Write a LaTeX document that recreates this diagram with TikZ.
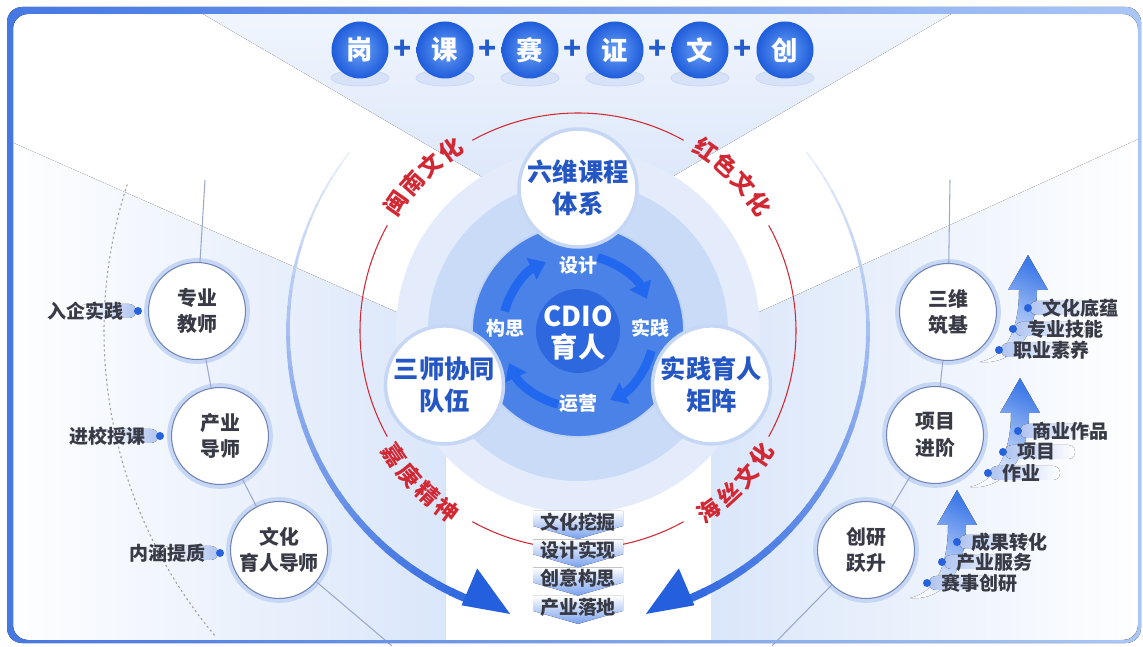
\documentclass[tikz,border=0pt]{standalone}
\usepackage{fontspec}
\setmainfont{Noto Sans CJK SC}
\usetikzlibrary{arrows.meta}

\definecolor{frameA}{RGB}{70,120,228}
\definecolor{frameB}{RGB}{170,198,246}
\definecolor{beam}{RGB}{218,230,250}
\definecolor{discpale}{RGB}{228,236,252}
\definecolor{discring}{RGB}{202,219,248}
\definecolor{disccore}{RGB}{74,130,232}
\definecolor{discin}{RGB}{46,104,222}
\definecolor{cycblue}{RGB}{34,104,238}
\definecolor{bigblue}{RGB}{36,96,222}
\definecolor{risedark}{RGB}{62,122,232}
\definecolor{culred}{RGB}{210,40,52}
\definecolor{nodeblue}{RGB}{36,86,196}
\definecolor{txtgray}{RGB}{56,58,70}
\definecolor{ringpale}{RGB}{198,214,245}
\definecolor{ringdark}{RGB}{112,132,182}
\definecolor{dotblue}{RGB}{38,98,222}
\definecolor{pillblue}{RGB}{176,196,240}
\definecolor{chevblue}{RGB}{120,160,238}
\definecolor{bubbleA}{RGB}{105,160,248}
\definecolor{bubbleB}{RGB}{30,92,218}
\definecolor{plusblue}{RGB}{36,92,206}

\tikzset{
  bignode/.style={circle, fill=white, draw=ringpale, line width=2pt, minimum size=2.36cm, inner sep=0pt, align=center, text=nodeblue, font=\bfseries\fontsize{14.4}{18.5}\selectfont},
  sidenode/.style={circle, fill=white, draw=ringdark, line width=0.6pt, preaction={draw=ringpale, line width=5pt}, minimum size=1.94cm, inner sep=0pt, align=center, text=txtgray, font=\bfseries\fontsize{11.3}{15}\selectfont},
  bubble/.style={circle, minimum size=1.14cm, inner sep=0pt, inner color=bubbleA, outer color=bubbleB, text=white, font=\bfseries\fontsize{15}{16}\selectfont},
  plusmark/.style={text=plusblue, inner sep=0pt, font=\bfseries\fontsize{17}{17}\selectfont},
  culture/.style={text=culred, inner sep=0pt, font=\bfseries\fontsize{13}{14}\selectfont},
  cyclab/.style={text=white, font=\bfseries\fontsize{10.8}{12}\selectfont},
  tag/.style={text=txtgray, inner sep=1pt, font=\bfseries\fontsize{10.8}{12}\selectfont},
  dotmark/.style={circle, fill=dotblue, minimum size=0.16cm, inner sep=0pt},
  linkline/.style={draw=ringdark!70, line width=0.6pt},
}

% label with dot on its right
\newcommand{\lefttag}[4]{%
  \fill[left color=white, right color=pillblue, rounded corners=0.14cm] (#2-58,#3-7) rectangle (#2-2,#3+7);
  \node[tag, anchor=east] (#1) at (#2-12,#3) {#4};
  \node[dotmark] (#1dot) at (#2,#3) {};
}
% label with dot on its left
\newcommand{\righttag}[4]{%
  \fill[left color=pillblue, right color=white, rounded corners=0.14cm] (#2+2,#3-7) rectangle (#2+72,#3+7);
  \node[tag, anchor=west] (#1) at (#2+12,#3) {#4};
  \node[dotmark] (#1dot) at (#2,#3) {};
}
% rising arrow from (#1,#2) to tip (#3,#4)
\newcommand{\risearrow}[4]{%
  \fill[top color=risedark, bottom color=risedark!4, shading angle=-25] (#1,#2) .. controls (#1+28,#2+6) and (#3-9,#4-72) .. (#3-9,#4-35) -- (#3-20,#4-35) -- (#3,#4) -- (#3+20,#4-35) -- (#3+9,#4-35) .. controls (#3+9,#4-78) and (#1+36,#2-3) .. (#1,#2) -- cycle;
}

\begin{document}
\begin{tikzpicture}[x=0.02cm,y=0.02cm]
\useasboundingbox (0,0) rectangle (1143,646);
\fill[white] (0,0) rectangle (1143,646);

% light beams
\begin{scope}
  \clip[rounded corners=0.3cm] (13,6) rectangle (1138,632);
  \fill[top color=beam!35!white, bottom color=beam] (179,646) -- (525,444) -- (629,444) -- (975,646) -- cycle;
  \fill[left color=white, right color=beam] (0,509) -- (410,328) -- (445,300) -- (445,0) -- (0,0) -- cycle;
  \fill[left color=beam, right color=white] (1143,509) -- (746,328) -- (711,300) -- (711,0) -- (1143,0) -- cycle;
\end{scope}

% top row
\foreach \ch [count=\k from 0] in {岗,课,赛,证,文,创}{
  \fill[ringpale!70!white, draw=ringpale] (360+85*\k,568) ellipse [x radius=29, y radius=8];
  \node[bubble] (b\k) at (360+85*\k,596) {\ch};
}
\foreach \k in {0,...,4}
  \node[plusmark] (p\k) at (402.5+85*\k,596) {+};

\begin{scope}[shift={(578,315)}]
  % discs
  \fill[discpale] (0,0) circle (182);
  \fill[discring] (0,0) circle (150);
  % culture ring
  \foreach \s in {61,151,241,331}
    \draw[culred, line width=0.6pt] (\s:218) arc[start angle=\s, end angle=\s+58, radius=218];
  \foreach \ch [count=\k] in {闽,南,文,化}
    \node[culture, rotate=135+16.5-6.6*\k-90] (m\k) at (135+16.5-6.6*\k:222) {\ch};
  \foreach \ch [count=\k] in {红,色,文,化}
    \node[culture, rotate=45+16.5-6.6*\k-90] (r\k) at (45+16.5-6.6*\k:222) {\ch};
  \foreach \ch [count=\k] in {嘉,庚,精,神}
    \node[culture, rotate=224-16.5+6.6*\k+90] (j\k) at (224-16.5+6.6*\k:222) {\ch};
  \foreach \ch [count=\k] in {海,丝,文,化}
    \node[culture, rotate=316-16.5+6.6*\k+90] (h\k) at (316-16.5+6.6*\k:222) {\ch};
  % big arrows
  \foreach \i in {0,...,35}{
    \pgfmathsetmacro\ang{142+3*\i}
    \pgfmathsetmacro\angb{38-3*\i}
    \pgfmathtruncatemacro\pc{12+2.4*\i}
    \pgfmathsetmacro\lw{0.8+0.11*\i}
    \draw[bigblue!\pc!white, line width=\lw pt] (\ang:290) arc[start angle=\ang, end angle=\ang+3.4, radius=290];
    \draw[bigblue!\pc!white, line width=\lw pt] (\angb:290) arc[start angle=\angb, end angle=\angb-3.4, radius=290];
  }
  \fill[bigblue] (256.5:291) -- (247:298) -- (247:258) -- cycle;
  \fill[bigblue] (-76.5:291) -- (-67:298) -- (-67:258) -- cycle;
  % core
  \fill[disccore] (0,0) circle (106);
  \draw[white!65!disccore, line width=1pt] (0,0) circle (106);
  \fill[discin] (0,0) circle (42);
  \foreach \s in {165,75,-15,-105}
    \draw[cycblue, line width=5pt, -{Triangle[width=13pt,length=9pt]}] (\s:76) arc[start angle=\s, end angle=\s-50, radius=76];
  \node[cyclab] (s1) at (0,66) {设计};
  \node[cyclab] (s2) at (72,3) {实践};
  \node[cyclab] (s3) at (0,-72) {运营};
  \node[cyclab] (s4) at (-73,3) {构思};
  \node[text=white, align=center, font=\bfseries\fontsize{15.6}{18}\selectfont] (core) at (0,-2) {CDIO\\育人};
  \node[bignode] (n1) at (90:143) {六维课程\\体系};
  \node[bignode] (n2) at (202:144) {三师协同\\队伍};
  \node[bignode] (n3) at (338:144) {实践育人\\矩阵};
  % dotted guide
  \draw[gray!75, line width=0.6pt, dash pattern=on 1.2pt off 1.6pt] (162:474) arc[start angle=162, end angle=220, radius=474];
\end{scope}

% bottom steps
\foreach \word [count=\k] in {文化挖掘,设计实现,创意构思,产业落地}{
  \pgfmathsetmacro\yy{151.3-28.3*\k}
  \fill[top color=white, bottom color=chevblue] (533,\yy+12) -- (623,\yy+12) -- (623,\yy-3) -- (578,\yy-16) -- (533,\yy-3) -- cycle;
  \node[tag] (st\k) at (578,\yy+1) {\word};
}

% teachers
\node[sidenode] (lt1) at (197,335) {专业\\教师};
\node[sidenode] (lt2) at (220,210) {产业\\导师};
\node[sidenode] (lt3) at (279,96) {文化\\育人导师};
\coordinate (l0) at (205,466);
\coordinate (l4) at (392,0);
\draw[linkline] (l0) -- (lt1) -- (lt2) -- (lt3) -- (l4);
\lefttag{la}{138}{335}{入企实践}
\lefttag{lb}{160}{210}{进校授课}
\lefttag{lc}{220}{93}{内涵提质}

% practice
\node[sidenode] (rt1) at (948,334) {三维\\筑基};
\node[sidenode] (rt2) at (935,211) {项目\\进阶};
\node[sidenode] (rt3) at (866,96) {创研\\跃升};
\coordinate (r0) at (950,466);
\coordinate (r4) at (772,0);
\draw[linkline] (r0) -- (rt1) -- (rt2) -- (rt3) -- (r4);
\risearrow{980}{284}{1028}{391}
\risearrow{970}{159}{1020}{268}
\risearrow{910}{48}{957}{156}
\righttag{ra1}{1028}{338}{文化底蕴}
\righttag{ra2}{1013}{317}{专业技能}
\righttag{ra3}{999}{296}{职业素养}
\righttag{rb1}{1018}{215}{商业作品}
\righttag{rb2}{1003}{194}{项目}
\righttag{rb3}{988}{173}{作业}
\righttag{rc1}{957}{104}{成果转化}
\righttag{rc2}{942}{84}{产业服务}
\righttag{rc3}{927}{63}{赛事创研}

% frame
\fill[left color=frameA, right color=frameB, even odd rule, rounded corners=0.3cm] (7,3) rectangle (1141,639) (13,6) rectangle (1138,632);
\end{tikzpicture}
\end{document}
